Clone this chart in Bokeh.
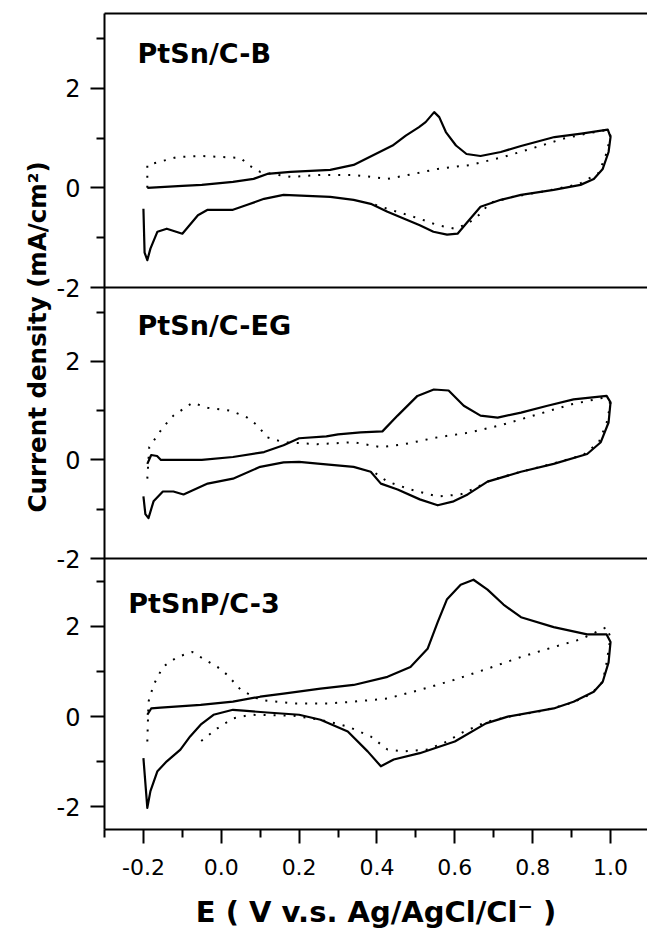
from bokeh.plotting import figure
from bokeh.models import (Range1d, FixedTicker, CustomJSTickFormatter, PrintfTickFormatter,
                          LinearAxis, Span, Title)
from bokeh.core.properties import value
from bokeh.embed import file_html
from bokeh.resources import INLINE

# ---------------- data ----------------
names = ["PtSn/C-B", "PtSn/C-EG", "PtSnP/C-3"]

# Panel 1: PtSn/C-B
b_solid_x = [-0.19, -0.1, -0.05, 0.03, 0.083, 0.118, 0.178, 0.28, 0.34, 0.381, 0.44, 0.474, 0.508,
             0.525, 0.547, 0.56, 0.577, 0.603, 0.63, 0.666, 0.718, 0.77, 0.856, 0.925, 0.993, 1.0,
             0.995, 0.98, 0.957, 0.923, 0.854, 0.77, 0.718, 0.666, 0.633, 0.607, 0.58, 0.545, 0.51,
             0.47, 0.427, 0.384, 0.34, 0.28, 0.16, 0.11, 0.067, 0.03, -0.035, -0.06, -0.10, -0.14,
             -0.164, -0.182, -0.19, -0.197, -0.2]
b_solid_y = [0.0, 0.04, 0.06, 0.12, 0.18, 0.28, 0.32, 0.36, 0.46, 0.62, 0.85, 1.05, 1.22,
             1.32, 1.52, 1.42, 1.12, 0.85, 0.68, 0.64, 0.72, 0.84, 1.02, 1.09, 1.17, 1.02,
             0.72, 0.38, 0.18, 0.06, -0.04, -0.14, -0.24, -0.38, -0.68, -0.92, -0.94, -0.88, -0.75,
             -0.62, -0.48, -0.32, -0.24, -0.18, -0.14, -0.22, -0.34, -0.44, -0.44, -0.55, -0.92, -0.82,
             -0.88, -1.22, -1.45, -1.3, -0.42]
b_dot_x = [-0.19, -0.19, -0.16, -0.113, -0.053, 0.05, 0.07, 0.1, 0.178, 0.255, 0.34, 0.427, 0.494,
           0.556, 0.64, 0.725, 0.81, 0.88, 0.94, 0.99,
           1.0, 0.99, 0.97, 0.92, 0.85, 0.75, 0.69, 0.666, 0.633, 0.6, 0.556, 0.51, 0.427, 0.38]
b_dot_y = [0.0, 0.46, 0.52, 0.62, 0.64, 0.6, 0.46, 0.32, 0.22, 0.26, 0.26, 0.18, 0.28,
           0.38, 0.46, 0.62, 0.82, 0.99, 1.09, 1.16,
           1.05, 0.7, 0.3, 0.08, -0.04, -0.18, -0.3, -0.52, -0.72, -0.82, -0.75, -0.62, -0.42, -0.3]

# Panel 2: PtSn/C-EG
eg_solid_x = [-0.19, -0.18, -0.165, -0.155, -0.1, -0.05, 0.03, 0.11, 0.16, 0.2, 0.27, 0.30, 0.358,
              0.414, 0.453, 0.504, 0.546, 0.584, 0.623, 0.666, 0.71, 0.77, 0.838, 0.905, 0.99, 1.0,
              0.995, 0.975, 0.94, 0.854, 0.77, 0.684, 0.633, 0.597, 0.556, 0.51, 0.453, 0.41, 0.384,
              0.34, 0.255, 0.2, 0.16, 0.1, 0.03, -0.035, -0.097, -0.123, -0.15, -0.174, -0.187,
              -0.195, -0.2]
eg_solid_y = [-0.08, 0.1, 0.08, 0.0, 0.0, 0.0, 0.06, 0.16, 0.3, 0.44, 0.48, 0.52, 0.56,
              0.58, 0.9, 1.3, 1.43, 1.41, 1.1, 0.9, 0.86, 0.96, 1.1, 1.23, 1.3, 1.17,
              0.76, 0.36, 0.12, -0.08, -0.24, -0.44, -0.7, -0.84, -0.92, -0.8, -0.6, -0.48, -0.24,
              -0.14, -0.08, -0.04, -0.05, -0.14, -0.38, -0.48, -0.7, -0.64, -0.64, -0.84, -1.18,
              -1.1, -0.74]
eg_dot_x = [-0.19, -0.185, -0.15, -0.123, -0.074, -0.035, 0.024, 0.067, 0.093, 0.118, 0.16, 0.247,
            0.34, 0.41, 0.47, 0.556, 0.64, 0.725, 0.81, 0.9, 0.98,
            1.0, 0.99, 0.97, 0.93, 0.85, 0.77, 0.69, 0.65, 0.615, 0.556, 0.486, 0.427, 0.384]
eg_dot_y = [-0.38, 0.26, 0.66, 0.9, 1.16, 1.06, 1.0, 0.86, 0.7, 0.46, 0.36, 0.32,
            0.36, 0.26, 0.32, 0.46, 0.56, 0.72, 0.92, 1.13, 1.26,
            1.15, 0.75, 0.36, 0.1, -0.08, -0.24, -0.42, -0.58, -0.7, -0.74, -0.6, -0.44, -0.2]

# Panel 3: PtSnP/C-3
p3_solid_x = [-0.19, -0.18, -0.156, -0.053, 0.03, 0.1, 0.16, 0.255, 0.34, 0.427, 0.486, 0.53, 0.556,
              0.58, 0.615, 0.648, 0.684, 0.725, 0.77, 0.854, 0.94, 0.99, 1.0,
              0.995, 0.98, 0.957, 0.905, 0.854, 0.736, 0.68, 0.6, 0.51, 0.443, 0.41, 0.376, 0.325,
              0.255, 0.2, 0.118, 0.057, 0.03, -0.02, -0.053, -0.08, -0.105, -0.14, -0.164, -0.182,
              -0.19, -0.2]
p3_solid_y = [0.04, 0.18, 0.2, 0.26, 0.33, 0.44, 0.51, 0.62, 0.7, 0.88, 1.1, 1.5, 2.09,
              2.6, 2.92, 3.03, 2.81, 2.48, 2.2, 1.98, 1.82, 1.82, 1.65,
              1.2, 0.77, 0.55, 0.33, 0.18, 0.0, -0.15, -0.55, -0.81, -0.95, -1.1, -0.77, -0.33,
              -0.07, 0.04, 0.09, 0.13, 0.15, 0.04, -0.18, -0.44, -0.73, -0.99, -1.21, -1.65,
              -2.02, -0.92]
p3_dot_x = [-0.19, -0.187, -0.174, -0.15, -0.113, -0.074, -0.046, -0.01, 0.016, 0.05, 0.1, 0.186,
            0.273, 0.34, 0.427, 0.51, 0.597, 0.684, 0.77, 0.854, 0.923, 0.99,
            1.0, 0.99, 0.98, 0.95, 0.9, 0.82, 0.74, 0.68, 0.62, 0.58, 0.53, 0.47, 0.427, 0.384,
            0.325, 0.255, 0.186, 0.075, 0.03, -0.01, -0.053, -0.07]
p3_dot_y = [-0.55, 0.33, 0.7, 1.1, 1.32, 1.43, 1.28, 1.1, 0.92, 0.59, 0.37, 0.29,
            0.29, 0.33, 0.4, 0.59, 0.81, 1.06, 1.32, 1.54, 1.71, 1.98,
            1.75, 1.2, 0.77, 0.5, 0.3, 0.12, 0.0, -0.12, -0.35, -0.55, -0.73, -0.77, -0.73, -0.44,
            -0.22, -0.07, 0.02, 0.04, -0.04, -0.26, -0.55, -0.6]

x_major = [-0.2, 0.0, 0.2, 0.4, 0.6, 0.8, 1.0]
x_minor = [-0.3, -0.1, 0.1, 0.3, 0.5, 0.7, 0.9]
y_major = [-2, 0, 2]
y_minor = [-1, 1, 3]
y_title = "Current density (mA/cm²)"
x_title = "E ( V v.s. Ag/AgCl/Cl⁻ )"

# ---------------- layout ----------------
W, H = 647, 931
FRAME_H = 816
FONT = "DejaVu Sans"
panels = [
    dict(name=names[0], sx=b_solid_x, sy=b_solid_y, dx=b_dot_x, dy=b_dot_y,
         src=(-2.0, 3.5), tgt=(542.0, 816.0), lab=(-0.215, 2.70)),
    dict(name=names[1], sx=eg_solid_x, sy=eg_solid_y, dx=eg_dot_x, dy=eg_dot_y,
         src=(-2.0, 3.5), tgt=(271.0, 542.0), lab=(-0.215, 2.73)),
    dict(name=names[2], sx=p3_solid_x, sy=p3_solid_y, dx=p3_dot_x, dy=p3_dot_y,
         src=(-2.5, 3.5), tgt=(0.0, 271.0), lab=(-0.239, 2.50)),
]

p = figure(width=W, height=H, x_range=Range1d(-0.3, 1.095), y_range=Range1d(0, FRAME_H),
           output_backend="svg", toolbar_location=None,
           min_border_left=104, min_border_right=0, min_border_top=13, min_border_bottom=102)
p.grid.visible = False
p.outline_line_color = None
p.background_fill_color = "white"
p.border_fill_color = "white"

maj_pos, maj_lab, min_pos = [], [], []
for pan in panels:
    s0, s1 = pan["src"]
    t0, t1 = pan["tgt"]
    sub = p.subplot(x_source=p.x_range, y_source=Range1d(s0, s1),
                    x_target=p.x_range, y_target=Range1d(t0, t1))
    sub.line(pan["sx"], pan["sy"], line_color="black", line_width=2.2, line_join="round")
    sub.line(pan["dx"], pan["dy"], line_color="black", line_width=2, line_dash="2 8")
    sub.text(x=[pan["lab"][0]], y=[pan["lab"][1]], text=[pan["name"]],
             text_font=value(FONT), text_font_style="bold", text_font_size="27px",
             text_color="black", text_baseline="middle", text_align="left")
    for v in y_major:
        if s0 <= v <= s1:
            maj_pos.append(t0 + (v - s0) / (s1 - s0) * (t1 - t0)); maj_lab.append(str(v))
    for v in y_minor:
        if s0 <= v <= s1:
            min_pos.append(t0 + (v - s0) / (s1 - s0) * (t1 - t0))

# separators between panels
for pan in panels[1:]:
    p.add_layout(Span(location=pan["tgt"][1], dimension="width", line_color="black", line_width=2))

xax = p.below[0]
yax = p.left[0]

# top border
top = LinearAxis(ticker=FixedTicker(ticks=[]), major_label_text_font_size="0px",
                 axis_line_width=2, axis_line_color="black",
                 major_tick_out=0, minor_tick_out=0, major_tick_in=0, minor_tick_in=0)
p.add_layout(top, "above")

yax.ticker = FixedTicker(ticks=maj_pos, minor_ticks=min_pos)
yax.formatter = CustomJSTickFormatter(args=dict(pos=maj_pos, lab=maj_lab), code="""
for (let i = 0; i < pos.length; i++) { if (Math.abs(pos[i] - tick) < 1e-6) return lab[i]; }
return "";
""")
xax.ticker = FixedTicker(ticks=x_major, minor_ticks=x_minor)
xax.formatter = PrintfTickFormatter(format="%.1f")
for ax in (xax, yax):
    ax.axis_line_width = 2
    ax.axis_line_color = "black"
    ax.major_tick_line_width = 2
    ax.minor_tick_line_width = 2
    ax.major_tick_line_color = "black"
    ax.minor_tick_line_color = "black"
    ax.major_tick_in = 0
    ax.minor_tick_in = 0
    ax.major_tick_out = 14
    ax.minor_tick_out = 8
    ax.major_label_text_font = FONT
    ax.major_label_text_color = "black"
yax.major_label_text_font_size = "24px"
yax.major_label_standoff = 10
xax.major_label_text_font_size = "22px"
xax.major_label_standoff = 15

xax.axis_label = x_title
xax.axis_label_text_font = FONT
xax.axis_label_text_font_style = "bold"
xax.axis_label_text_font_size = "29px"
xax.axis_label_text_color = "black"
xax.axis_label_text_line_height = 1.0
xax.axis_label_standoff = 17

# y-axis title (starts 317 px above the frame bottom)
p.add_layout(Title(text=y_title, align="left", offset=317, standoff=4,
                   text_font=FONT, text_font_style="bold", text_font_size="24.5px",
                   text_color="black"), "left")

open("out.html", "w").write(file_html(p, INLINE))
